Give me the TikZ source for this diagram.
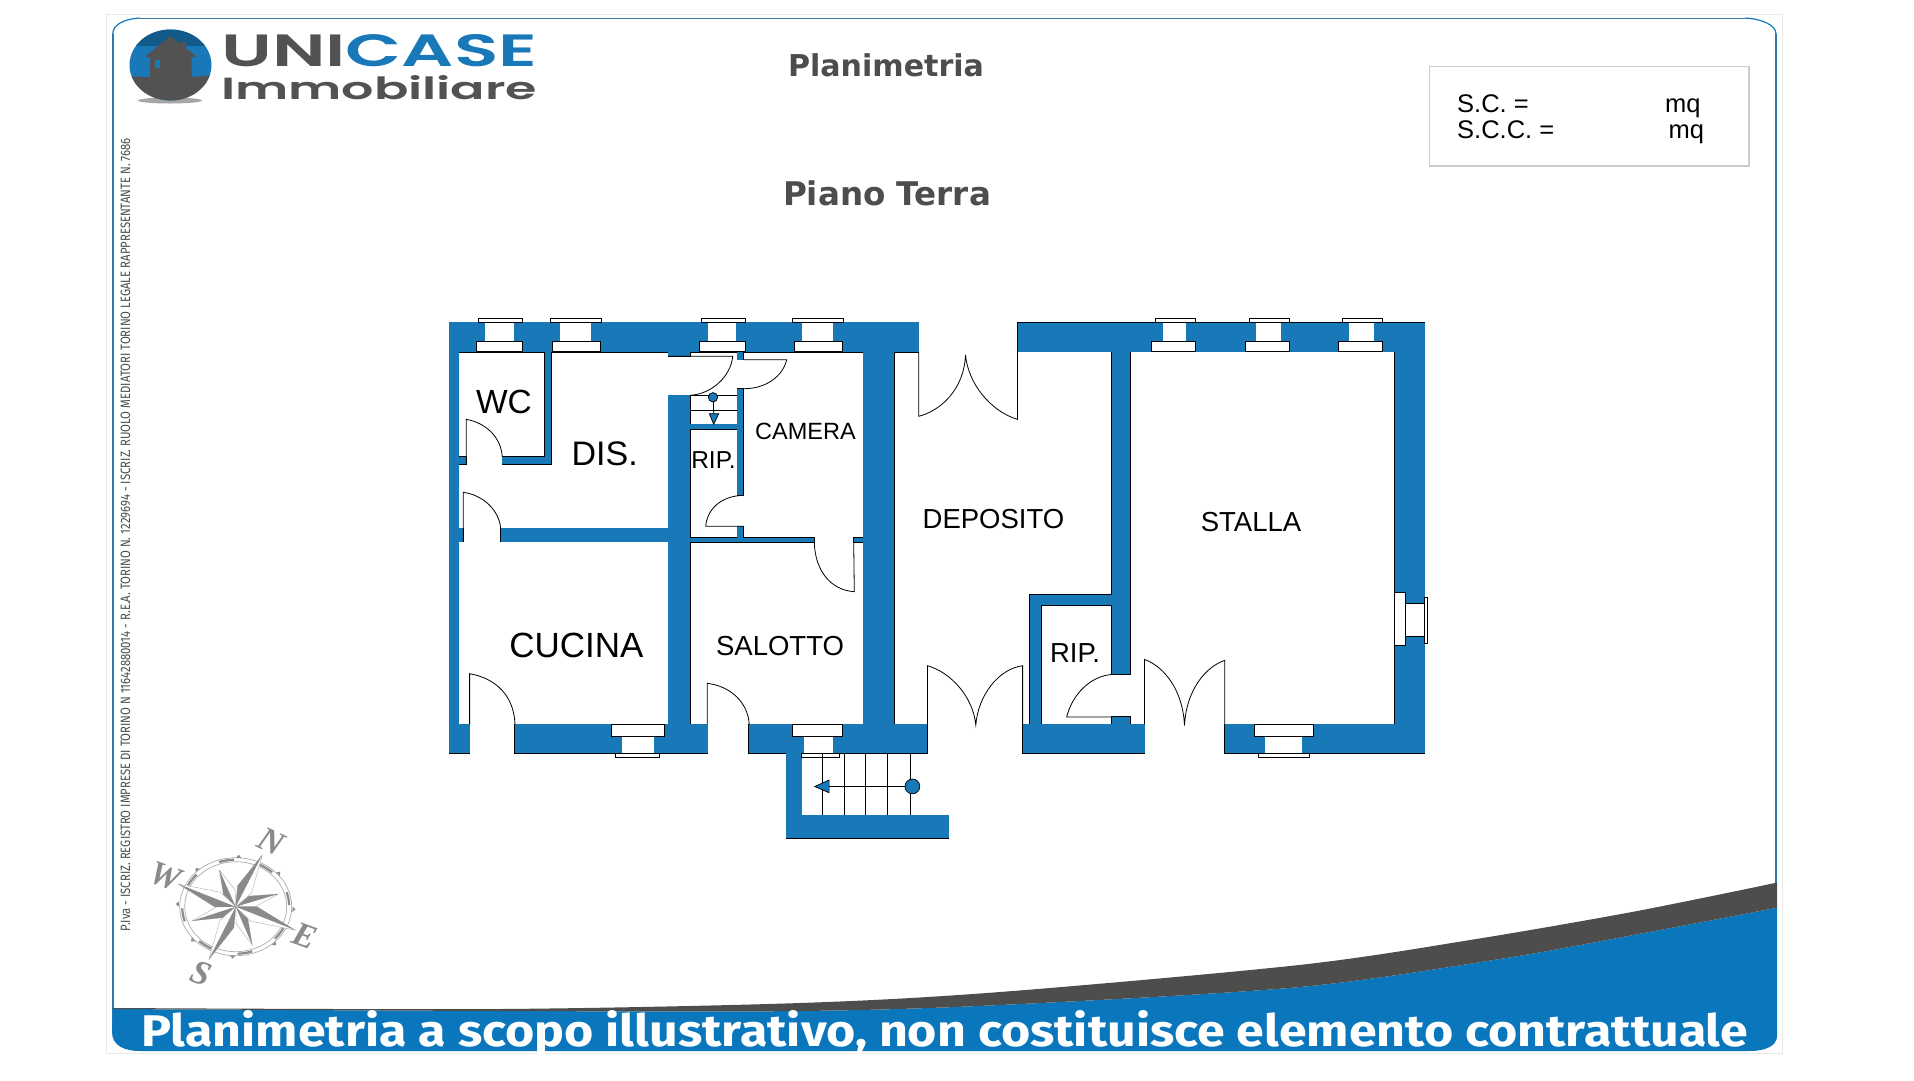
\documentclass[tikz,border=0pt]{standalone}
\usepackage{graphicx}
\usepackage{fontspec}
\setmainfont{Liberation Sans}
\newfontfamily\titlef{DejaVu Sans}
\newfontfamily\bandf{Fira Sans}
\newfontfamily\logof{Poppins SemiBold}
\newfontfamily\compf{Liberation Serif}
\newcommand{\fsz}[1]{\fontsize{#1}{#1}\selectfont}
\definecolor{planblue}{HTML}{1878B8}
\definecolor{bandblue}{HTML}{0A77BD}
\definecolor{darkband}{HTML}{4D4D4B}
\definecolor{logogray}{HTML}{525252}
\definecolor{titlegray}{HTML}{4D4D4D}
\definecolor{compgray}{HTML}{8A8A8A}
\tikzset{
  doorline/.style={black,line width=0.8pt},
  winpart/.style={draw=black,fill=white,line width=0.9pt},
  label/.style={inner sep=0pt,black},
}
\begin{document}
\begin{tikzpicture}[x=1pt,y=-1pt]
\useasboundingbox (0,0) rectangle (1914,1080);
\fill[white] (0,0) rectangle (1914,1080);
% outer pale frame
\draw[draw=black!9,line width=1pt] (106,14.5) rectangle (1782,1053);
% blue rounded frame
\draw[color=planblue!65!gray,line width=1pt] (140,18) -- (1745,18);
\draw[color=planblue,line width=1.2pt] (1745,18) .. controls (1762,19) and (1776,25) .. (1776,34);
\draw[color=planblue,line width=1.2pt] (140,18) .. controls (123,19) and (113,25) .. (112.7,34);
\draw[color=planblue!85!gray,line width=2pt] (113,34) -- (113,1030);
\draw[color=planblue!85!gray,line width=2pt] (1776,34) -- (1776,1036);
% bottom band
\fill[bandblue] plot[smooth] coordinates {(113,1009) (500,1011) (800,1011) (1000,1005) (1300,987) (1506,958) (1644,933) (1777,907.7)}
  -- (1777,1036) .. controls (1777,1046) and (1765,1051) .. (1750,1051) -- (140,1051) .. controls (125,1051) and (112,1046) .. (112,1032) -- cycle;
\fill[darkband] plot[smooth] coordinates {(113,1008) (500,1009) (800,1003) (1000,992) (1300,964.9) (1472,939.7) (1634,911.6) (1777,882.6)}
  -- plot[smooth] coordinates {(1777,907.7) (1644,933) (1506,958) (1300,987) (1000,1005) (800,1011) (500,1011) (113,1009)} -- cycle;
\node[inner sep=0pt,anchor=west,white] (bandtext) at (141,1033) {\resizebox{1607pt}{36pt}{\bandf\bfseries\fsz{48}Planimetria a scopo illustrativo, non costituisce elemento contrattuale}};
% logo
\fill[black!35] (170,100.5) ellipse (32 and 3);
\begin{scope}
\clip (170.5,65) ellipse (41 and 35.5);
\fill[planblue] (129,29) rectangle (212,101);
\fill[planblue!75!black] (129,29) rectangle (212,46);
\fill[logogray] (128,76) .. controls (150,78) and (190,78) .. (213,75) -- (213,101) -- (128,101) -- cycle;
\fill[logogray] (170,36) -- (181,44) -- (181,41.5) -- (186,41.5) -- (186,48) -- (197,57) -- (191.7,57) -- (191.7,80) -- (150,80) -- (150,57) -- (145,57) -- cycle;
\fill[planblue] (155,60) rectangle (160,68);
\end{scope}
\node[inner sep=0pt,anchor=west] (logo1) at (221,50.5) {\resizebox{316pt}{32pt}{\logof\fsz{50}\textcolor{logogray}{UNI}\textcolor{planblue}{CASE}}};
\node[inner sep=0pt,anchor=west] (logo2) at (221,87.5) {\resizebox{316pt}{24pt}{\logof\fsz{40}\textcolor{logogray}{Immobiliare}}};
% titles
\node[inner sep=0pt,text=titlegray] (title1) at (886,65) {\resizebox{196pt}{!}{\titlef\bfseries\fsz{28}Planimetria}};
\node[inner sep=0pt,text=titlegray] (title2) at (887,193.5) {\resizebox{208pt}{!}{\titlef\bfseries\fsz{28}Piano Terra}};
% area box
\draw[draw=black!20,line width=1.4pt] (1429.3,66.7) rectangle (1749,166);
\node[label,anchor=base west] (sc) at (1457,112.7) {\fsz{25.5}S.C. =};
\node[label,anchor=base west] (scc) at (1457,138) {\fsz{25.5}S.C.C. =};
\node[label,anchor=base west] (mq1) at (1665,112.7) {\fsz{25.5}mq};
\node[label,anchor=base west] (mq2) at (1668.5,138) {\fsz{25.5}mq};
% vertical text
\node[inner sep=0pt,rotate=90,text=black!70,anchor=center] (iva) at (125.5,534.5) {\resizebox{793pt}{9.5pt}{\bandf\fsz{20}P.Iva - ISCRIZ. REGISTRO IMPRESE DI TORINO N 11642880014 - R.E.A. TORINO N. 1229694 - ISCRIZ. RUOLO MEDIATORI TORINO LEGALE RAPPRESENTANTE N. 7686}};
% walls: outline pass then fill pass gives union outline
\newcommand{\wallrects}{
449.3/322.3/918.7/352.3, 449.3/322.3/458.5/753.3, 458.3/457/466.3/464.3, 458.3/528.3/463.3/541.7,
544.7/352/551.3/464.3, 502.3/457/551.3/464.3, 500.7/528.3/668.3/541.7,
668.3/395.3/690.3/753.3, 668.3/352/690.3/356.3,
737.3/352/743.3/359.7, 737.3/388.7/743.3/495.3, 737.3/526.3/743.3/542.3, 690.3/424.3/737.3/429.3,
690.3/537.7/814.3/542.3, 853.7/537.7/863.3/542.3, 863.3/352/894.4/753.3,
449.3/724.3/469.6/753.3, 515/724.3/707.6/753.3, 749.2/724.3/927.4/753.3,
786.4/753.3/801.6/838.4, 786.4/815.3/948.6/838.4,
1017.5/322.5/1424.5/351.5, 1112.1/351/1130.4/674.4, 1112.1/717/1130.4/730,
1030.2/595/1112.1/605.4, 1030.2/595/1041.2/730,
1022.6/724.3/1144.5/753.3, 1224.8/724.3/1424.5/753.3, 1394.5/322.5/1424.5/753.3}
\foreach \a/\b/\c/\d in \wallrects {\draw[black,line width=1.5pt] (\a,\b) rectangle (\c,\d);}
\foreach \a/\b/\c/\d in \wallrects {\fill[planblue] (\a,\b) rectangle (\c,\d);}
% windows
\foreach \cl/\cr/\ml/\mr/\il/\ir in {478.3/522.7/485.3/513.7/476.3/522.7, 550.3/601.7/560.3/591.3/552.3/600.3, 701.3/745.7/708.3/736.3/699.7/745.7, 792.3/843.7/802.3/833.3/794.3/842.3, 1155.2/1195.5/1162.8/1186.2/1151.4/1195.5, 1249.2/1289.5/1256.4/1280.5/1245.4/1289.5, 1342.2/1382.8/1349.4/1373.5/1338.4/1382.8}{
  \draw[winpart] (\cl,318.3) rectangle (\cr,322.4);
  \fill[white] (\ml,322.4) rectangle (\mr,341);
  \draw[black,line width=0.9pt] (\ml,322.4) -- (\mr,322.4);
  \draw[winpart] (\il,341) rectangle (\ir,351.8);
}
\foreach \cl/\cr/\ml/\mr/\il/\ir in {615.3/659.7/621.5/653.5/611.5/664.2, 801.6/839.4/803.6/832.6/792.6/842.2, 1258.2/1309.5/1264.7/1302.2/1254.7/1313.6}{
  \draw[winpart] (\cl,753.3) rectangle (\cr,757.3);
  \fill[white] (\ml,736.7) rectangle (\mr,753.3);
  \draw[black,line width=0.9pt] (\ml,753.3) -- (\mr,753.3);
  \draw[winpart] (\il,724.3) rectangle (\ir,736.7);
}
% right window
\draw[winpart] (1424.5,597.3) rectangle (1427.6,643.3);
\draw[winpart] (1405.5,603.2) rectangle (1424.5,636.3);
\draw[winpart] (1394.5,592.6) rectangle (1405.5,645.3);
% doors
\draw[doorline] (466.3,464.3) -- (466.3,419.3) .. controls (486,423) and (501,437) .. (502.3,457);
\draw[doorline] (463.3,541.7) -- (463.3,492.3) .. controls (483,495) and (499,510) .. (500.7,528.3);
\draw[doorline] (668.3,356.3) -- (732.7,356.3) .. controls (731,376) and (712,394) .. (690.3,395.3);
\draw[doorline] (743.3,359.7) -- (786.7,359.7) .. controls (783,376) and (766,389) .. (743.3,388.7);
\draw[doorline] (743.3,526.3) -- (705.7,526.3) .. controls (707,510) and (720,496) .. (743.3,495.3);
\draw[doorline] (814.3,542.3) .. controls (815,570) and (830,590) .. (854.3,591.7) -- (853.7,542.3);
\draw[doorline] (469.6,724.3) -- (469.6,673.7) .. controls (495,678) and (514,695) .. (515,724.3);
\draw[doorline] (707.2,724.3) -- (707.2,683.3) .. controls (730,686) and (748,702) .. (749.2,724.3);
\draw[doorline] (927.4,724.3) -- (927.4,665.7) .. controls (950,672) and (973,696) .. (975.8,725) .. controls (978,696) and (998,669) .. (1022.6,665.7) -- (1022.6,724.3);
\draw[doorline] (918.7,352.3) -- (918.7,416.3) .. controls (940,411) and (964,390) .. (965.5,355) .. controls (968,383) and (990,411) .. (1017.5,419.4) -- (1017.5,351.5);
\draw[doorline] (1112.1,717) -- (1066.7,717) .. controls (1072,695) and (1090,676) .. (1112.1,674.4);
\draw[doorline] (1144.5,724.3) -- (1144.5,659.4) .. controls (1165,667) and (1183,691) .. (1184.5,725.7) .. controls (1186,691) and (1205,667) .. (1224.8,660.3) -- (1224.8,724.3);
% small stair
\draw[black,line width=0.8pt] (690.3,395.3) -- (737.3,395.3);
\draw[black,line width=0.8pt] (690.3,410.3) -- (737.3,410.3);
\draw[black,line width=0.8pt] (713.3,397.3) -- (713.7,414);
\draw[black,fill=planblue,line width=0.7pt] (713,397.3) circle (4.7);
\draw[black,fill=planblue,line width=0.7pt] (709.3,413.7) -- (718.7,413.7) -- (713.7,424.3) -- cycle;
% main stair
\foreach \sx in {822.2,844.3,865.6,887.7,910.4} {\draw[black,line width=0.8pt] (\sx,753.3) -- (\sx,815.3);}
\draw[black,line width=0.8pt] (912.4,786.4) -- (829.1,786.4);
\draw[black,fill=planblue,line width=0.7pt] (912.4,786.4) circle (7.4);
\draw[black,fill=planblue,line width=0.7pt] (829.1,780) -- (829.1,792.7) -- (814.7,786.5) -- cycle;
% room labels
\node[label] (wc) at (504,402) {\fsz{33.5}WC};
\node[label] (dis) at (604.7,453.3) {\fsz{34}DIS.};
\node[label] (camera) at (805.5,431.7) {\fsz{23.5}CAMERA};
\node[label] (rip1) at (713.5,460) {\fsz{24.5}RIP.};
\node[label] (cucina) at (576.5,645.8) {\fsz{35}CUCINA};
\node[label] (salotto) at (780,646.3) {\fsz{27.5}SALOTTO};
\node[label] (deposito) at (993.5,518.7) {\fsz{27.5}DEPOSITO};
\node[label] (stalla) at (1251,522.5) {\fsz{27.5}STALLA};
\node[label] (rip2) at (1075,652.6) {\fsz{27.5}RIP.};
% compass
\begin{scope}[shift={(235.7,906.7)},y=1pt]
\draw[compgray!70,line width=0.7pt] (0,0) ellipse (56 and 49);
\draw[compgray!70,line width=0.7pt] (0,0) ellipse (51 and 45);
\foreach \ang in {0,45,...,315} {
  \draw[compgray,line width=2.2pt] plot[domain=\ang+2:\ang+18,samples=6,variable=\t] ({cos(\t)*53.5},{sin(\t)*47});
  \pgfmathsetmacro{\tx}{cos(\ang-3)*60}\pgfmathsetmacro{\ty}{sin(\ang-3)*52}
  \fill[compgray] (\tx,\ty) -- ++(\ang-3+140:4) -- ++(\ang-3-90:5.2) -- cycle;
}
\foreach \an/\rr/\wa in {16.6/44.5/17, -66.6/41.7/17, 198/45.7/17, 114/40/17, 62.8/58/21, -21.5/63.7/21, 243/59/21, 158.4/61.7/21} {
  \fill[white] (0,0) -- (\an+22:\wa) -- (\an:\rr) -- (\an-22:\wa) -- cycle;
  \draw[compgray!70,line width=0.4pt] (0,0) -- (\an+22:\wa) -- (\an:\rr) -- (\an-22:\wa) -- cycle;
  \fill[compgray] (0,0) -- (\an:\rr) -- (\an+22:\wa) -- cycle;
}
\end{scope}
\node[inner sep=0pt,rotate=-25,text=compgray] (north) at (271.7,841.7) {\compf\itshape\bfseries\fsz{34}N};
\node[inner sep=0pt,rotate=-20,text=compgray] (west) at (165.7,876) {\compf\itshape\bfseries\fsz{34}W};
\node[inner sep=0pt,rotate=-20,text=compgray] (east) at (305,936) {\compf\itshape\bfseries\fsz{34}E};
\node[inner sep=0pt,rotate=-20,text=compgray] (south) at (201,973.3) {\compf\itshape\bfseries\fsz{34}S};
\end{tikzpicture}
\end{document}
